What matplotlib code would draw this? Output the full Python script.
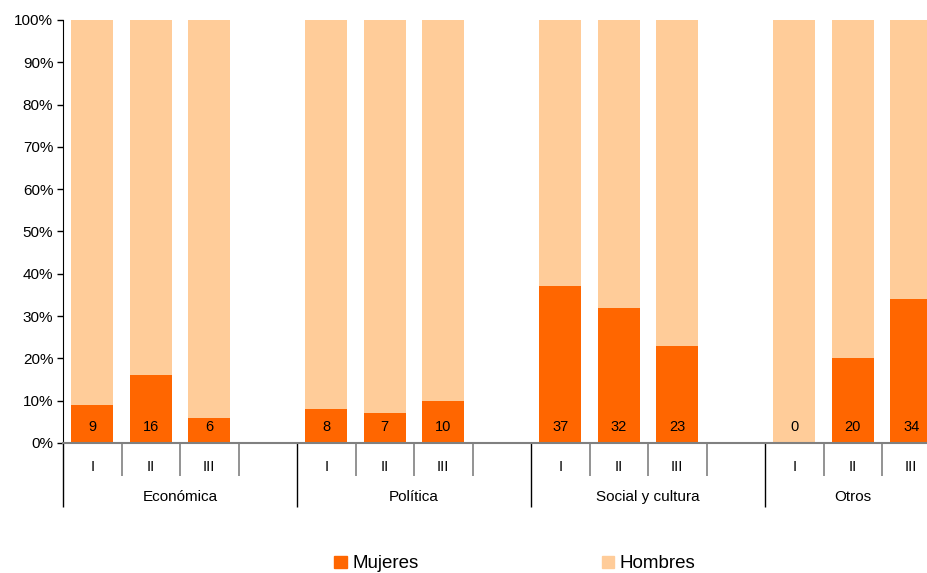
import matplotlib
matplotlib.use("Agg")
import matplotlib.pyplot as plt
from matplotlib.patches import Patch
from matplotlib.transforms import blended_transform_factory

plt.rcParams['font.family'] = ['Liberation Sans', 'DejaVu Sans']

groups = ["Económica", "Política", "Social y cultura", "Otros"]
periods = ["I", "II", "III"]
mujeres = [[9, 16, 6], [8, 7, 10], [37, 32, 23], [0, 20, 34]]
hombres = [[100 - v for v in row] for row in mujeres]
yticks = [0, 10, 20, 30, 40, 50, 60, 70, 80, 90, 100]

C_MUJ = "#FF6600"
C_HOM = "#FFCC99"

fig = plt.figure(figsize=(9.27, 5.73), dpi=100)
ax = fig.add_axes([63 / 927, 1 - 443 / 573, (940.5 - 63) / 927, 423 / 573])

slots_per_group = 4
xs, m_vals, h_vals, lbls = [], [], [], []
for g, name in enumerate(groups):
    for j, p in enumerate(periods):
        xs.append(g * slots_per_group + j)
        m_vals.append(mujeres[g][j])
        h_vals.append(hombres[g][j])
        lbls.append(p)

bw = 0.72
ax.bar(xs, m_vals, width=bw, color=C_MUJ, label="Mujeres")
ax.bar(xs, h_vals, width=bw, bottom=m_vals, color=C_HOM, label="Hombres")

for x, v in zip(xs, m_vals):
    ax.text(x, 3.7, f"{v}", ha="center", va="center", fontsize=10.5, color="black")

ax.set_yticks(yticks)
ax.set_yticklabels([f"{t}%" for t in yticks], fontsize=11)
ax.tick_params(axis="y", length=4, width=1, color="black", pad=3)

n_slots = len(groups) * slots_per_group
bounds = [i - 0.5 for i in range(n_slots + 1)]
long_b = [b for i, b in enumerate(bounds) if i % slots_per_group == 0]
short_b = [b for i, b in enumerate(bounds) if i % slots_per_group != 0]
ax.set_xticks(short_b)
ax.set_xticklabels([])
ax.set_xticks(long_b, minor=True)
ax.tick_params(axis="x", which="major", length=24, width=1.2, color="#808080", direction="out")
ax.tick_params(axis="x", which="minor", length=46, width=1, color="black", direction="out")

ax.set_xlim(-0.5, n_slots - 1.5)
ax.set_ylim(0, 100)

for s in ["top", "right"]:
    ax.spines[s].set_visible(False)
ax.spines["left"].set_color("black")
ax.spines["bottom"].set_color("#808080")
ax.spines["bottom"].set_linewidth(1.5)

trans = blended_transform_factory(ax.transData, ax.transAxes)
for x, l in zip(xs, lbls):
    ax.text(x, -0.057, l, transform=trans, ha="center", va="center", fontsize=10.5)
for g, name in enumerate(groups):
    n = slots_per_group if g < len(groups) - 1 else len(periods)
    cx = g * slots_per_group + (n - 1) / 2
    ax.text(cx, -0.128, name, transform=trans, ha="center", va="center", fontsize=11)

handles = [Patch(color=C_MUJ), Patch(color=C_HOM)]
fig.legend(handles, ["Mujeres", "Hombres"], loc="center", bbox_to_anchor=(515 / 927, 1 - 564 / 573),
           ncol=2, frameon=False, fontsize=13.5, handlelength=0.65, handleheight=0.65,
           handletextpad=0.3, columnspacing=9.8, borderpad=0, borderaxespad=0)

fig.savefig("out.png", dpi=100)
